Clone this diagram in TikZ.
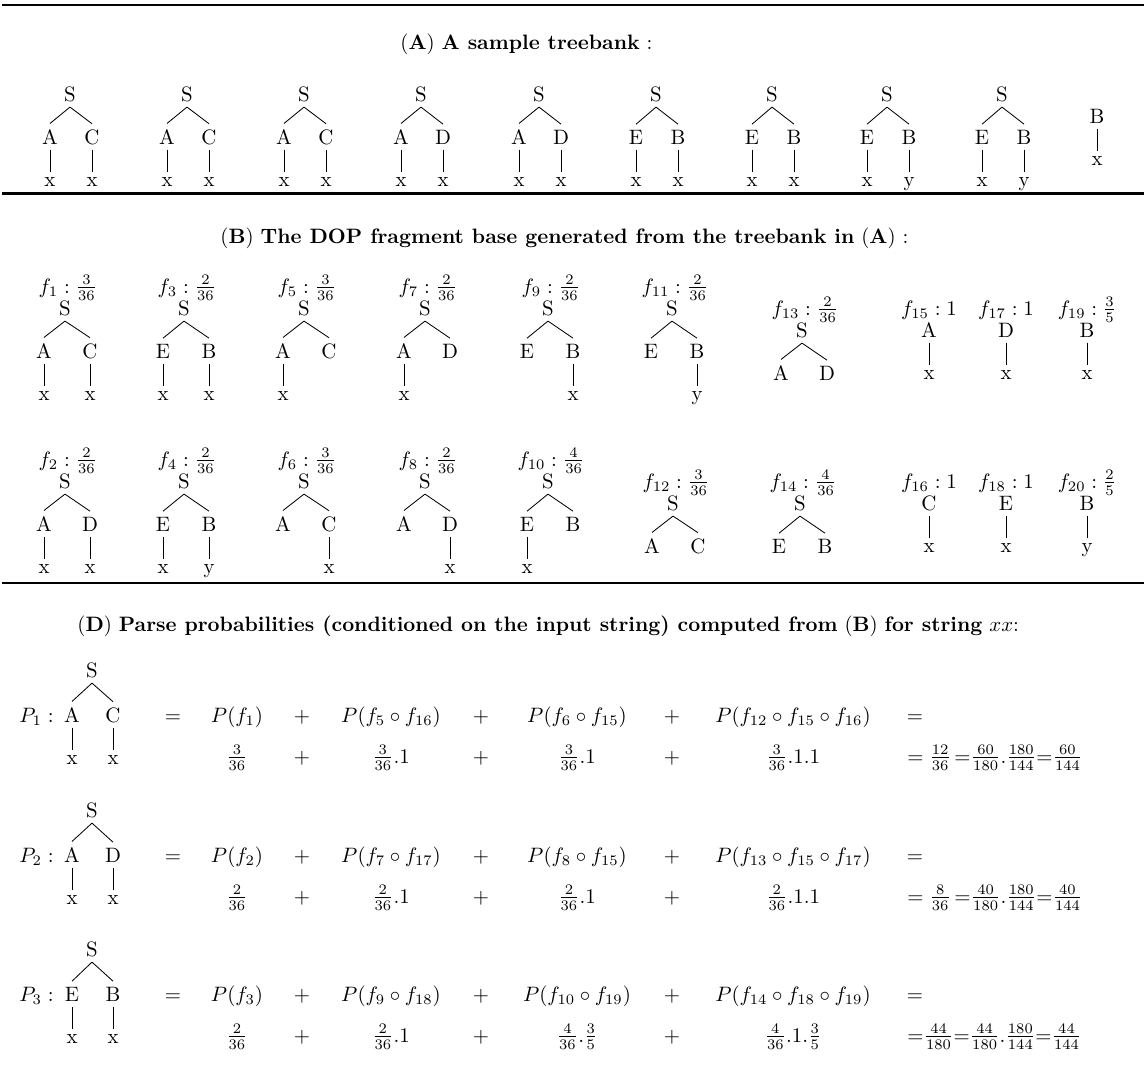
\documentclass[tikz,border=0pt]{standalone}

\begin{document}
\begin{tikzpicture}[x=0.48pt, y=-0.48pt,
    cat/.style={inner sep=2.5pt, anchor=base},
    leaf/.style={cat, yshift=-20.6pt},
    frag/.style={inner sep=0pt, anchor=base},
    term/.style={inner sep=0pt, anchor=base},
    head/.style={inner sep=0pt, anchor=base west},
    rule/.style={line width=1.1pt}]

    \useasboundingbox (0,0) rectangle (1146,1065);

    % rules
    \draw[rule] (2,5) -- (1144,5);
    \draw[rule] (2,193.5) -- (1144,193.5);
    \draw[rule] (2,583) -- (1144,583);

    % (A) treebank
    \node[head] (ta) at (400,49) {$(\mathbf{A})$ \textbf{A sample treebank} :};
    \foreach \x/\ca/\cb/\wa/\wb [count=\i] in {
        70/A/C/x/x,
        187/A/C/x/x,
        304/A/C/x/x,
        421/A/D/x/x,
        539/A/D/x/x,
        656/E/B/x/x,
        772/E/B/x/x,
        887/E/B/x/y,
        1002/E/B/x/y
    }{
        \node[cat] (t\i) at (\x,101) {S};
        \node[cat] (t\i-l) at (\x-20,144) {\ca};
        \node[cat] (t\i-r) at (\x+22,144) {\cb};
        \node[leaf] (t\i-lx) at (t\i-l.base) {\wa};
        \node[leaf] (t\i-rx) at (t\i-r.base) {\wb};
        \draw (t\i.south) -- (t\i-l.north);
        \draw (t\i.south) -- (t\i-r.north);
        \draw (t\i-l.south) -- (t\i-lx.north);
        \draw (t\i-r.south) -- (t\i-rx.north);
    }
    \node[cat] (t10) at (1097,123) {B};
    \node[leaf] (t10-x) at (t10.base) {x};
    \draw (t10.south) -- (t10-x.north);

    % (B) fragments
    \node[head] (tb) at (220,243) {$(\mathbf{B})$ \textbf{The DOP fragment base generated from the treebank in} $(\mathbf{A})$ :};
    \foreach \n/\x/\y/\p/\ca/\cb in {
        1/65/0/{\frac{3}{36}}/A/C,
        3/184/0/{\frac{2}{36}}/E/B,
        5/304/0/{\frac{3}{36}}/A/C,
        7/425/0/{\frac{2}{36}}/A/D,
        9/548/0/{\frac{2}{36}}/E/B,
        11/672/0/{\frac{2}{36}}/E/B,
        13/802/22/{\frac{2}{36}}/A/D,
        2/65/173/{\frac{2}{36}}/A/D,
        4/184/173/{\frac{2}{36}}/E/B,
        6/304/173/{\frac{3}{36}}/A/C,
        8/425/173/{\frac{2}{36}}/A/D,
        10/548/173/{\frac{4}{36}}/E/B,
        12/673/195/{\frac{3}{36}}/A/C,
        14/800/195/{\frac{4}{36}}/E/B
    }{
        \node[frag] (f\n) at (\x+3,293+\y) {$f_{\n} : \p$};
        \node[cat] (s\n) at (\x,315+\y) {S};
        \node[cat] (s\n-l) at (\x-21,358+\y) {\ca};
        \node[cat] (s\n-r) at (\x+25,358+\y) {\cb};
        \draw (s\n.south) -- (s\n-l.north);
        \draw (s\n.south) -- (s\n-r.north);
    }
    \foreach \c/\w in {
        s1-l/x, s1-r/x, s3-l/x, s3-r/x, s5-l/x, s7-l/x, s9-r/x, s11-r/y,
        s2-l/x, s2-r/x, s4-l/x, s4-r/y, s6-r/x, s8-r/x, s10-l/x
    }{
        \node[leaf] (\c-x) at (\c.base) {\w};
        \draw (\c.south) -- (\c-x.north);
    }
    \foreach \n/\x/\y/\p/\ca/\w in {
        15/929/0/1/A/x,
        17/1006/0/1/D/x,
        19/1087/0/{\frac{3}{5}}/B/x,
        16/929/173/1/C/x,
        18/1006/173/1/E/x,
        20/1087/173/{\frac{2}{5}}/B/y
    }{
        \node[frag] (f\n) at (\x,315+\y) {$f_{\n} : \p$};
        \node[cat] (s\n) at (\x,337+\y) {\ca};
        \node[leaf] (s\n-x) at (s\n.base) {\w};
        \draw (s\n.south) -- (s\n-x.north);
    }

    % (D) parse probabilities
    \node[head] (td) at (77,631) {$(\mathbf{D})$ \textbf{Parse probabilities (conditioned on the input string) computed from} $(\mathbf{B})$ \textbf{for string} $xx$:};
    \foreach \y/\ca/\cb [count=\n] in {0/A/C, 140/A/D, 279/E/B}{
        \node[term, anchor=base east] (p\n) at (54,722+\y) {$P_{\n} :$};
        \node[cat] (r\n) at (92,677+\y) {S};
        \node[cat] (r\n-l) at (72,722+\y) {\ca};
        \node[cat] (r\n-r) at (113,722+\y) {\cb};
        \node[leaf] (r\n-lx) at (r\n-l.base) {x};
        \node[leaf] (r\n-rx) at (r\n-r.base) {x};
        \draw (r\n.south) -- (r\n-l.north);
        \draw (r\n.south) -- (r\n-r.north);
        \draw (r\n-l.south) -- (r\n-lx.north);
        \draw (r\n-r.south) -- (r\n-rx.north);
        % signs
        \node[term] (eq\n) at (173,722+\y) {$=$};
        \node[term] (pa\n) at (302,722+\y) {$+$};
        \node[term] (pb\n) at (481,722+\y) {$+$};
        \node[term] (pc\n) at (672,722+\y) {$+$};
        \node[term] (qa\n) at (302,763+\y) {$+$};
        \node[term] (qb\n) at (481,763+\y) {$+$};
        \node[term] (qc\n) at (672,763+\y) {$+$};
        \node[term] (end\n) at (915,722+\y) {$=$};
    }

    \node[term] (a1) at (237,722) {$P(f_1)$};
    \node[term] (b1) at (391,722) {$P(f_5\circ f_{16})$};
    \node[term] (c1) at (577,722) {$P(f_6\circ f_{15})$};
    \node[term] (d1) at (793,722) {$P(f_{12}\circ f_{15}\circ f_{16})$};
    \node[term] (a1v) at (237,763) {$\frac{3}{36}$};
    \node[term] (b1v) at (391,763) {$\frac{3}{36}.1$};
    \node[term] (c1v) at (577,763) {$\frac{3}{36}.1$};
    \node[term] (d1v) at (793,763) {$\frac{3}{36}.1.1$};
    \node[head] (e1v) at (907,763) {$= \frac{12}{36}\,{=}\frac{60}{180}.\frac{180}{144}{=}\frac{60}{144}$};

    \node[term] (a2) at (237,862) {$P(f_2)$};
    \node[term] (b2) at (391,862) {$P(f_7\circ f_{17})$};
    \node[term] (c2) at (577,862) {$P(f_8\circ f_{15})$};
    \node[term] (d2) at (793,862) {$P(f_{13}\circ f_{15}\circ f_{17})$};
    \node[term] (a2v) at (237,903) {$\frac{2}{36}$};
    \node[term] (b2v) at (391,903) {$\frac{2}{36}.1$};
    \node[term] (c2v) at (577,903) {$\frac{2}{36}.1$};
    \node[term] (d2v) at (793,903) {$\frac{2}{36}.1.1$};
    \node[head] (e2v) at (907,903) {$= \frac{8}{36}\,{=}\frac{40}{180}.\frac{180}{144}{=}\frac{40}{144}$};

    \node[term] (a3) at (237,1001) {$P(f_3)$};
    \node[term] (b3) at (391,1001) {$P(f_9\circ f_{18})$};
    \node[term] (c3) at (577,1001) {$P(f_{10}\circ f_{19})$};
    \node[term] (d3) at (793,1001) {$P(f_{14}\circ f_{18}\circ f_{19})$};
    \node[term] (a3v) at (237,1042) {$\frac{2}{36}$};
    \node[term] (b3v) at (391,1042) {$\frac{2}{36}.1$};
    \node[term] (c3v) at (577,1042) {$\frac{4}{36}.\frac{3}{5}$};
    \node[term] (d3v) at (793,1042) {$\frac{4}{36}.1.\frac{3}{5}$};
    \node[head] (e3v) at (907,1042) {${=}\frac{44}{180}{=}\frac{44}{180}.\frac{180}{144}{=}\frac{44}{144}$};
\end{tikzpicture}
\end{document}
